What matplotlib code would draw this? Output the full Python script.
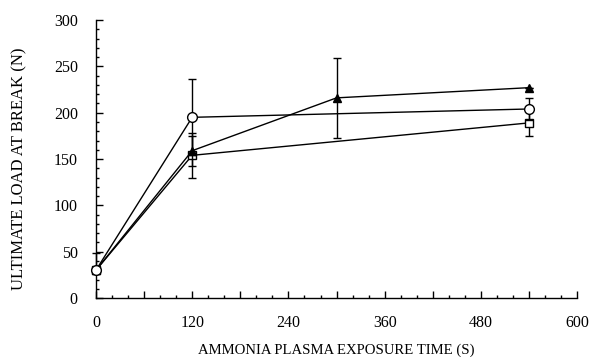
import matplotlib
matplotlib.use("Agg")
import matplotlib.pyplot as plt
from matplotlib.ticker import MultipleLocator,FuncFormatter

# exposure time (s) and ultimate load (N) per series
circTime=[0,120,540]
circLoad=[30,195,204]
circErr=[0,41,12]

triTime=[0,120,300,540]
triLoad=[30,159,216,227]
triErr=[0,16,43,0]

sqTime=[0,120,540]
sqLoad=[30,154,189]
sqErrLo=[0,24,14]
sqErrHi=[19,24,14]

plt.rcParams["font.family"]=["Liberation Serif","DejaVu Serif"]

fig=plt.figure(figsize=(5.92,3.57),dpi=100)
ax=fig.add_axes([0.162,0.165,0.813,0.779])

common=dict(color="black",linewidth=1,capsize=2.8,elinewidth=1,capthick=1,clip_on=False)
ax.errorbar(sqTime,sqLoad,yerr=[sqErrLo,sqErrHi],marker="s",markersize=6,markerfacecolor="white",
            markeredgecolor="black",zorder=3,**common)
ax.errorbar(triTime,triLoad,yerr=triErr,marker="^",markersize=6,markerfacecolor="black",
            markeredgecolor="black",zorder=4,**common)
ax.errorbar(circTime,circLoad,yerr=circErr,marker="o",markersize=7,markerfacecolor="white",
            markeredgecolor="black",zorder=5,**common)

ax.set_xlim(0,600);ax.set_ylim(0,300)
ax.xaxis.set_major_locator(MultipleLocator(60))
ax.xaxis.set_minor_locator(MultipleLocator(20))
ax.xaxis.set_major_formatter(FuncFormatter(lambda v,p:f"{int(v)}" if int(v)%120==0 else ""))
ax.yaxis.set_major_locator(MultipleLocator(50))
ax.yaxis.set_minor_locator(MultipleLocator(10))
ax.tick_params(which="both",direction="in",width=1,labelsize=11.5)
ax.tick_params(which="major",length=5)
ax.tick_params(which="minor",length=2.5)
ax.tick_params(axis="x",pad=12)
ax.tick_params(axis="y",pad=13)
for s in ["top","right"]:
    ax.spines[s].set_visible(False)
for s in ["left","bottom"]:
    ax.spines[s].set_linewidth(1)

ax.set_xlabel("AMMONIA PLASMA EXPOSURE TIME (S)",fontsize=10.6,labelpad=9)
ax.set_ylabel("ULTIMATE LOAD AT BREAK (N)",fontsize=12)
ax.yaxis.set_label_coords(-0.143,0.464)

fig.savefig("out.png",dpi=100)
